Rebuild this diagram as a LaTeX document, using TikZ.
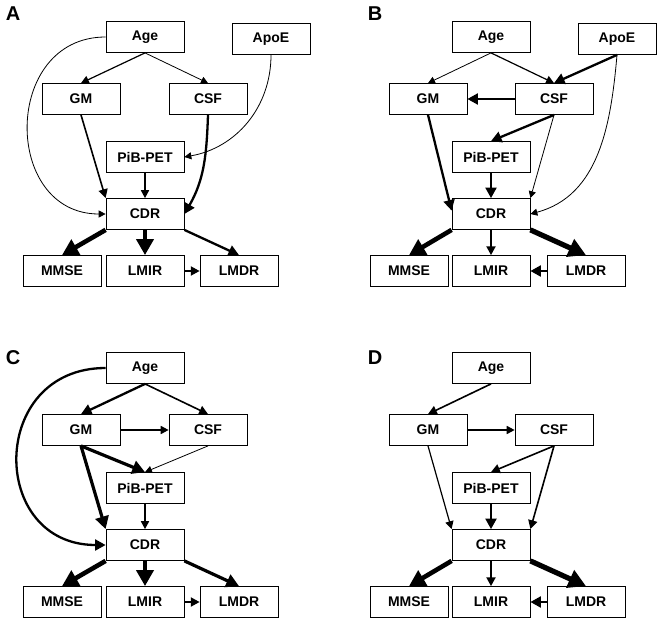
\documentclass[tikz,border=0pt]{standalone}
\usepackage{fontspec}
\setmainfont{Liberation Sans}
\usetikzlibrary{positioning,arrows.meta}

\tikzset{
  box/.style={draw, line width=0.8pt, minimum width=78pt, minimum height=31pt,
    inner sep=0pt, font=\bfseries\fontsize{14}{16}\selectfont},
  panel/.style={font=\bfseries\fontsize{20}{24}\selectfont},
  arr/.style={-{Triangle[length=5pt 2.4,width=5pt 2.6]}},
  thinarr/.style={arr, line width=0.8pt},
  lightarr/.style={arr, line width=1.2pt},
  midarr/.style={arr, line width=1.6pt},
  boldarr/.style={arr, line width=2.3pt},
  heavyarr/.style={arr, line width=3.2pt},
  hugearr/.style={arr, line width=4.6pt},
}

\begin{document}
\begin{tikzpicture}[x=1pt, y=1pt, on grid]
\useasboundingbox (0,0) rectangle (660,625);

% panel A
\node[panel] (labA) at (13,611) {A};
\node[box] (A-age) at (145,588) {Age};
\node[box, below right=2pt and 126pt of A-age] (A-apoe) {ApoE};
\node[box, below left=62pt and 64pt of A-age] (A-gm) {GM};
\node[box, below right=62pt and 63pt of A-age] (A-csf) {CSF};
\node[box, below=120pt of A-age] (A-pib) {PiB-PET};
\node[box, below=57pt of A-pib] (A-cdr) {CDR};
\node[box, below=57pt of A-cdr] (A-lmir) {LMIR};
\node[box, left=83pt of A-lmir] (A-mmse) {MMSE};
\node[box, right=94pt of A-lmir] (A-lmdr) {LMDR};

\draw[lightarr] (A-age.south) -- (A-gm.north);
\draw[thinarr] (A-age.south) -- (A-csf.north);
\draw[thinarr] (A-age.west) to[out=180, in=180, looseness=1.5] (A-cdr.west);
\draw[thinarr] (A-apoe.south) to[out=-90, in=10] (A-pib.east);
\draw[midarr] (A-gm.south) -- (A-cdr.north west);
\draw[boldarr] (A-csf.south) to[out=-92, in=60] (A-cdr.east);
\draw[lightarr] (A-pib) -- (A-cdr);
\draw[hugearr] (A-cdr.south west) -- (A-mmse.north);
\draw[hugearr] (A-cdr) -- (A-lmir);
\draw[boldarr] (A-cdr.south east) -- (A-lmdr.north);
\draw[midarr] (A-lmir) -- (A-lmdr);

% panel B
\node[panel] (labB) at (375,611) {B};
\node[box] (B-age) at (491,588) {Age};
\node[box, below right=2pt and 126pt of B-age] (B-apoe) {ApoE};
\node[box, below left=62pt and 63pt of B-age] (B-gm) {GM};
\node[box, below right=62pt and 63pt of B-age] (B-csf) {CSF};
\node[box, below=120pt of B-age] (B-pib) {PiB-PET};
\node[box, below=57pt of B-pib] (B-cdr) {CDR};
\node[box, below=57pt of B-cdr] (B-lmir) {LMIR};
\node[box, left=82pt of B-lmir] (B-mmse) {MMSE};
\node[box, right=95pt of B-lmir] (B-lmdr) {LMDR};

\draw[thinarr] (B-age.south) -- (B-gm.north);
\draw[lightarr] (B-age.south) -- (B-csf.north);
\draw[boldarr] (B-apoe.south) -- (B-csf.north);
\draw[thinarr] (B-apoe.south) to[out=-95, in=15] (B-cdr.east);
\draw[boldarr] (B-csf) -- (B-gm);
\draw[boldarr] (B-csf.south) -- (B-pib.north);
\draw[thinarr] (B-csf.south) -- (B-cdr.north east);
\draw[boldarr] (B-gm.south) -- (B-cdr.175);
\draw[boldarr] (B-pib) -- (B-cdr);
\draw[hugearr] (B-cdr.south west) -- (B-mmse.north);
\draw[midarr] (B-cdr) -- (B-lmir);
\draw[hugearr, line width=5.2pt] (B-cdr.south east) -- (B-lmdr.north);
\draw[boldarr] (B-lmdr) -- (B-lmir);

% panel C
\node[panel] (labC) at (13,267) {C};
\node[box] (C-age) at (145,257) {Age};
\node[box, below left=62pt and 64pt of C-age] (C-gm) {GM};
\node[box, below right=62pt and 63pt of C-age] (C-csf) {CSF};
\node[box, below=120pt of C-age] (C-pib) {PiB-PET};
\node[box, below=57pt of C-pib] (C-cdr) {CDR};
\node[box, below=57pt of C-cdr] (C-lmir) {LMIR};
\node[box, left=83pt of C-lmir] (C-mmse) {MMSE};
\node[box, right=94pt of C-lmir] (C-lmdr) {LMDR};

\draw[boldarr] (C-age.south) -- (C-gm.north);
\draw[midarr] (C-age.south) -- (C-csf.north);
\draw[boldarr] (C-age.west) to[out=180, in=180, looseness=1.7] (C-cdr.west);
\draw[lightarr] (C-gm) -- (C-csf);
\draw[heavyarr] (C-gm.south) -- (C-pib.north);
\draw[thinarr] (C-csf.south) -- (C-pib.north);
\draw[heavyarr] (C-gm.south) -- (C-cdr.north west);
\draw[lightarr] (C-pib) -- (C-cdr);
\draw[hugearr] (C-cdr.south west) -- (C-mmse.north);
\draw[hugearr] (C-cdr) -- (C-lmir);
\draw[heavyarr] (C-cdr.south east) -- (C-lmdr.north);
\draw[midarr] (C-lmir) -- (C-lmdr);

% panel D
\node[panel] (labD) at (375,267) {D};
\node[box] (D-age) at (491,257) {Age};
\node[box, below left=62pt and 63pt of D-age] (D-gm) {GM};
\node[box, below right=62pt and 63pt of D-age] (D-csf) {CSF};
\node[box, below=120pt of D-age] (D-pib) {PiB-PET};
\node[box, below=57pt of D-pib] (D-cdr) {CDR};
\node[box, below=57pt of D-cdr] (D-lmir) {LMIR};
\node[box, left=82pt of D-lmir] (D-mmse) {MMSE};
\node[box, right=95pt of D-lmir] (D-lmdr) {LMDR};

\draw[midarr] (D-age.south) -- (D-gm.north);
\draw[lightarr] (D-gm) -- (D-csf);
\draw[midarr] (D-csf.south) -- (D-pib.north);
\draw[midarr] (D-csf.south) -- (D-cdr.north east);
\draw[lightarr] (D-gm.south) -- (D-cdr.north west);
\draw[boldarr] (D-pib) -- (D-cdr);
\draw[hugearr] (D-cdr.south west) -- (D-mmse.north);
\draw[midarr] (D-cdr) -- (D-lmir);
\draw[hugearr, line width=5.2pt] (D-cdr.south east) -- (D-lmdr.north);
\draw[boldarr] (D-lmdr) -- (D-lmir);
\end{tikzpicture}
\end{document}
